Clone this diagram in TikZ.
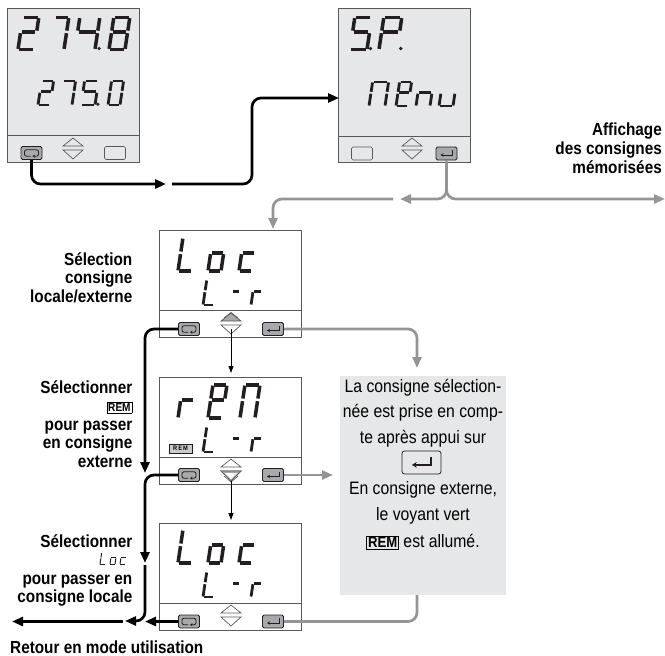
\documentclass[tikz,border=0pt]{standalone}
\usepackage{fontspec}
\usetikzlibrary{arrows.meta}
\setmainfont{Liberation Sans}
\newfontfamily\boldnarrow[FakeStretch=0.875]{Liberation Sans Bold}
\newfontfamily\plainnarrow[FakeStretch=0.875]{Liberation Sans}
\definecolor{lcd}{HTML}{E6E7E8}
\definecolor{arrowgray}{HTML}{939598}
\definecolor{edge}{HTML}{58595B}
\definecolor{key}{HTML}{A7A9AC}
\definecolor{ink}{HTML}{231F20}
\newcommand\segA{\draw (.08,1)--(.92,1);}
\newcommand\segB{\draw (1,.98)--(1,.59);}
\newcommand\segC{\draw (1,.51)--(1,.02);}
\newcommand\segD{\draw (.08,0)--(.92,0);}
\newcommand\segE{\draw (0,.51)--(0,.02);}
\newcommand\segF{\draw (0,.98)--(0,.59);}
\newcommand\segG{\draw (.08,.55)--(.92,.55);}
\newcommand\segP{\fill (1.2,.03) circle (1.8pt);}
\newcommand\sevseg[6]{\begin{scope}[shift={(#1,#2)},x={(#3pt,0pt)},y={({0.15*#4*1pt},{#4*1pt})},line width=#5pt,color=ink]#6\end{scope}}
\newcommand\tagrem{\setlength{\fboxsep}{1pt}\setlength{\fboxrule}{0.7pt}\fbox{\boldnarrow\fontsize{11.5}{11.5}\selectfont REM}}
\newcommand\updown[3]{%
 \draw[edge,line width=.7pt,fill=#3] (#1-10,#2-3) -- (#1,#2-11) -- (#1+10,#2-3) -- cycle;
 \draw[edge,line width=.7pt] (#1-10,#2+1) -- (#1,#2+10) -- (#1+10,#2+1) -- cycle;}
\newcommand\iconloop[1]{\begin{scope}[shift={(#1)}]\draw[ink,line width=.8pt,rounded corners=2pt,-{Stealth[length=2.5pt,width=3pt]}] (-1,3.2)--(-7,3.2)--(-7,-3.2)--(7,-3.2)--(7,3.2)--(1,3.2);\end{scope}}
\newcommand\iconenter[2][1]{\begin{scope}[shift={(#2)},scale=#1]\draw[ink,line width=#1*.9pt,-{Stealth[length=#1*3pt,width=#1*3.5pt]}] (6,-3.5)--(6,1.5)--(-6,1.5);\end{scope}}
\tikzset{
 panel/.style={draw=edge,line width=.8pt,minimum width=142pt,inner sep=0pt},
 lcdpanel/.style={panel,fill=lcd,minimum width=132pt,minimum height=154pt},
 whitepanel/.style={panel,fill=white,minimum height=107pt},
 divider/.style={edge,line width=.8pt},
 keyon/.style={draw=ink,fill=key,line width=.8pt,rounded corners=1.5pt,minimum width=21pt,minimum height=13pt,inner sep=0pt},
 keyoff/.style={draw=edge,fill=lcd,line width=.6pt,rounded corners=1.5pt,minimum width=21pt,minimum height=13pt,inner sep=0pt},
 heavy/.style={black,line width=2.7pt,rounded corners=9pt,-{Triangle[length=11pt,width=9pt]}},
 heavyg/.style={arrowgray,line width=2.7pt,rounded corners=9pt,-{Triangle[length=11pt,width=9pt]}},
 thinarrow/.style={black,line width=.9pt,-{Triangle[length=7pt,width=5pt]}},
 side/.style={inner sep=0pt,anchor=north east,align=right,font=\boldnarrow\fontsize{17.5}{18.6}\selectfont},
 boxtext/.style={inner sep=0pt,anchor=center,font=\plainnarrow\fontsize{18}{18}\selectfont},
}
\begin{document}
\begin{tikzpicture}[x=1pt,y=-1pt]
\useasboundingbox (0,0) rectangle (665,656);
% panels
\node[lcdpanel] (p1) at (73,85) {};
\node[lcdpanel] (p2) at (404,85) {};
\node[whitepanel] (p3) at (230.5,284) {};
\node[whitepanel] (p4) at (230.5,430.5) {};
\node[whitepanel] (p5) at (230.5,576.5) {};
\node[inner sep=0pt,minimum width=166pt,minimum height=219pt,fill=lcd] (info) at (423,485.5) {};
% dividers
\draw[divider] (p1.west |- 0,135) -- (p1.east |- 0,135);
\draw[divider] (p2.west |- 0,136) -- (p2.east |- 0,136);
\draw[divider] (p3.west |- 0,310) -- (p3.east |- 0,310);
\draw[divider] (p4.west |- 0,457) -- (p4.east |- 0,457);
\draw[divider] (p5.west |- 0,603) -- (p5.east |- 0,603);
% keys
\node[keyon] (k1) at (31.5,153) {};
\node[keyoff] (k1b) at (115,153) {};
\node[keyoff] (k2a) at (362,153.5) {};
\node[keyon] (k2) at (446.5,153.5) {};
\node[keyon] (k3a) at (189,329) {};
\node[keyon] (k3b) at (273,329) {};
\node[keyon] (k4a) at (189,475) {};
\node[keyon] (k4b) at (273,475) {};
\node[keyon] (k5a) at (189,621.5) {};
\node[keyon] (k5b) at (273,621.5) {};
\iconloop{k1.center}\iconloop{k3a.center}\iconloop{k4a.center}\iconloop{k5a.center}
\iconenter{k2.center}\iconenter{k3b.center}\iconenter{k4b.center}\iconenter{k5b.center}
% up/down keys
\updown{73}{149}{lcd}
\updown{412}{149}{lcd}
\updown{231}{324}{key}
\updown{231}{470}{white}
\updown{231}{616}{white}
\draw[edge,line width=.7pt] (224,318)--(231,312.5)--(238,318);
\draw[edge,line width=.7pt] (224,476)--(231,482)--(238,476);
\draw[edge,line width=.7pt,fill=key] (221,471)--(231,481)--(241,471)--cycle;
\fill[white] (225,473)--(231,479)--(237,473)--cycle;
% LCD: panel 1
\sevseg{18}{49.5}{16}{32}{3.5}{\segA\segB\segG\segE\segD}
\sevseg{50}{49.5}{14}{32}{3.5}{\segA\segB\segC}
\sevseg{75}{49.5}{20}{32}{3.5}{\segF\segG\segB\segC\segP}
\sevseg{109}{49.5}{16}{32}{3.5}{\segA\segB\segC\segD\segE\segF\segG}
\sevseg{38}{105}{12}{24}{2.8}{\segA\segB\segG\segE\segD}
\sevseg{59}{105}{13}{24}{2.8}{\segA\segB\segC}
\sevseg{81}{105}{14}{24}{2.8}{\segA\segF\segG\segC\segD\segP}
\sevseg{108}{105}{12}{24}{2.8}{\segA\segB\segC\segD\segE\segF}
% LCD: panel 2
\sevseg{350}{49.5}{17}{32}{3.5}{\segA\segF\segG\segC\segD\segP}
\sevseg{379}{49.5}{18}{32}{3.5}{\segA\segB\segF\segG\segE\segP}
\sevseg{369}{106}{16}{24}{2.8}{\segA\segB\segC\segE\segF}
\sevseg{396}{106}{12}{24}{2.8}{\segA\segB\segF\segG\segE\segD}
\sevseg{416}{106}{14}{24}{2.8}{\segG\segE\segC}
\sevseg{439}{106}{14}{24}{2.8}{\segE\segC\segD}
% LCD: panel 3
\sevseg{178}{271}{14}{33}{3.5}{\segF\segE\segD}
\sevseg{208}{271}{13}{33}{3.5}{\segG\segE\segC\segD}
\sevseg{239}{271}{13}{33}{3.5}{\segG\segE\segD}
\sevseg{203}{305}{11}{25}{2.8}{\segF\segE\segD}
\sevseg{230}{305}{8}{25}{2.8}{\segG}
\sevseg{251}{305}{9}{25}{2.8}{\segG\segE}
% LCD: panel 4
\sevseg{178}{418}{13}{33}{3.5}{\segG\segE}
\sevseg{208}{418}{14}{33}{3.5}{\segA\segB\segF\segG\segE\segD}
\sevseg{240}{418}{15}{33}{3.5}{\segA\segB\segC\segE\segF}
\sevseg{203}{452}{11}{25}{2.8}{\segF\segE\segD}
\sevseg{230}{452}{8}{25}{2.8}{\segG}
\sevseg{251}{452}{9}{25}{2.8}{\segG\segE}
\node[draw=ink,line width=.6pt,fill=key!60,inner sep=0.6pt,font=\boldnarrow\fontsize{6.5}{7}\selectfont,minimum width=23pt,minimum height=9pt] (remtag) at (180.5,448.5) {R\,E\,M};
% LCD: panel 5
\sevseg{178}{563}{14}{33}{3.5}{\segF\segE\segD}
\sevseg{208}{563}{13}{33}{3.5}{\segG\segE\segC\segD}
\sevseg{239}{563}{13}{33}{3.5}{\segG\segE\segD}
\sevseg{203}{597}{11}{25}{2.8}{\segF\segE\segD}
\sevseg{230}{597}{8}{25}{2.8}{\segG}
\sevseg{251}{597}{9}{25}{2.8}{\segG\segE}
% small Loc in label
\sevseg{100}{564}{5}{11}{1}{\segF\segE\segD}
\sevseg{110}{564}{5}{11}{1}{\segG\segE\segC\segD}
\sevseg{120}{564}{5}{11}{1}{\segG\segE\segD}
% coordinates
\coordinate (mid1) at (166,184);
\coordinate (mid1b) at (172,184);
\coordinate (gl) at (400,199);
\coordinate (gr) at (665,199);
\coordinate (gl2) at (393,199);
\coordinate (p3top) at (273,229);
\coordinate (p2in) at (339,98);
\coordinate (bend1) at (252,184);
\coordinate (bend2) at (252,98);
\coordinate (drop1) at (145,473);
\coordinate (drop2) at (145,563);
\coordinate (drop3) at (145,565);
\coordinate (ret1) at (125,621);
\coordinate (ret2) at (145,621.5);
\coordinate (ret3) at (123,621.5);
\coordinate (ret4) at (12,621.5);
\coordinate (g4) at (333,475);
\coordinate (t3) at (231,329);
\coordinate (t3e) at (231,373);
\coordinate (t4) at (231,481);
\coordinate (t4e) at (231,520);
\coordinate (infotop) at (417,368);
% black connectors
\draw[heavy] (k1.south) |- (mid1);
\draw[heavy] (mid1b) -- (bend1) -- (bend2) -- (p2in);
\draw[heavy] (k3a.west) -| (drop1);
\draw[heavy] (k4a.west) -| (drop2);
\draw[heavy] (drop3) |- (ret1);
\draw[heavy] (k5a.west) -- (ret2);
\draw[heavy] (ret3) -- (ret4);
\draw[thinarrow] (t3) -- (t3e);
\draw[thinarrow] (t4) -- (t4e);
% gray connectors
\draw[heavyg] (k2.south) |- (gl);
\draw[heavyg] (k2.south) |- (gr);
\draw[heavyg] (gl2) -| (p3top);
\draw[heavyg] (k3b.east) -| (infotop);
\draw[heavyg] (k4b.east) -- (g4);
\draw[arrowgray,line width=2.7pt,rounded corners=9pt] (k5b.east) -| (info.south -| infotop);
% texts
\node[side,anchor=north east] (t1) at (662,123) {Affichage\\des consignes\\mémorisées};
\node[side] (t2) at (132.5,252) {Sélection\\consigne\\locale/externe};
\node[side] (t3l) at (132.5,380) {Sélectionner\\\tagrem\\pour passer\\en consigne\\externe};
\node[side] (t4l) at (132.5,534) {Sélectionner\\\mbox{}\\pour passer en\\consigne locale};
\node[inner sep=0pt,anchor=west,font=\boldnarrow\fontsize{17.5}{18}\selectfont] (t5) at (10,647.5) {Retour en mode utilisation};
% info box text
\node[boxtext] (b1) at (423,388) {La consigne sélection-};
\node[boxtext] (b2) at (423,413) {née est prise en comp-};
\node[boxtext] (b3) at (423,439) {te après appui sur};
\node[draw=ink,line width=.8pt,rounded corners=2.5pt,minimum width=39pt,minimum height=23pt,inner sep=0pt] (b4) at (421.5,462.5) {};
\iconenter[1.6]{b4.center}
\node[boxtext] (b5) at (423,490) {En consigne externe,};
\node[boxtext] (b6) at (423,516) {le voyant vert};
\node[boxtext] (b7) at (423,542) {\setlength{\fboxsep}{1pt}\setlength{\fboxrule}{.8pt}\fbox{\boldnarrow\fontsize{15}{15}\selectfont REM} est allumé.};
\end{tikzpicture}
\end{document}
